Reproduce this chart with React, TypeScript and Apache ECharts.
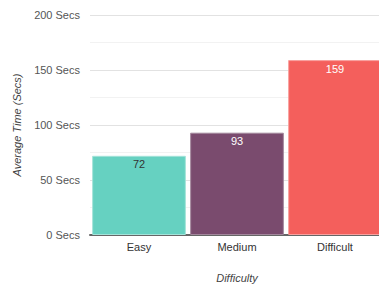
import React, { useEffect, useRef } from "react";
import * as echarts from "echarts";

const categories = ["Easy", "Medium", "Difficult"];
const values = [72, 93, 159];
const barColors = ["#66d1c1", "#7a4b6e", "#f45f5c"];
const borderColors = ["#a3e3d9", "#a3879c", "#f8a09e"];
const labelColors = ["#333333", "#ffffff", "#ffffff"];

export default function App() {
  const ref = useRef<HTMLDivElement>(null);
  useEffect(() => {
    const chart = echarts.init(ref.current!, null, { renderer: "svg" });
    chart.setOption({
      animation: false,
      grid: { left: 90, right: -5, top: 15, bottom: 49, outerBoundsMode: "none", containLabel: false },
      xAxis: {
        type: "category",
        data: categories,
        name: "Difficulty",
        nameLocation: "middle",
        nameGap: 37,
        nameTextStyle: { fontStyle: "italic", color: "#444", fontSize: 11, fontFamily: "Liberation Sans" },
        axisLine: { lineStyle: { color: "#666", width: 2 } },
        axisTick: { show: false },
        axisLabel: { color: "#333", fontSize: 11, fontFamily: "Liberation Sans", margin: 6 },
      },
      yAxis: {
        type: "value",
        min: 0,
        max: 200,
        interval: 50,
        name: "Average Time (Secs)",
        nameLocation: "middle",
        nameGap: 68,
        nameTextStyle: { fontStyle: "italic", color: "#444", fontSize: 11, fontFamily: "Liberation Sans" },
        axisLine: { show: false },
        axisTick: { show: false },
        axisLabel: {
          formatter: (v: number) => v + " Secs",
          color: "#555",
          fontSize: 11,
          fontFamily: "Liberation Sans",
          margin: 10,
        },
        splitLine: { lineStyle: { color: "#e2e2e2", width: 1 } },
        minorTick: { show: false, splitNumber: 2 },
        minorSplitLine: { show: true, lineStyle: { color: "#f2f2f2", width: 1 } },
      },
      series: [
        {
          type: "bar",
          barCategoryGap: "4.4%",
          data: values.map((v, i) => ({
            value: v,
            itemStyle: { color: barColors[i], borderColor: borderColors[i], borderWidth: 1 },
            label: { color: labelColors[i] },
          })),
          label: {
            show: true,
            position: "insideTop",
            distance: 3,
            fontSize: 11,
            fontFamily: "Liberation Sans",
          },
        },
      ],
    });
    return () => chart.dispose();
  }, []);
  return <div ref={ref} style={{ width: 379, height: 284, position: "absolute", left: 0, top: 0 }} />;
}
